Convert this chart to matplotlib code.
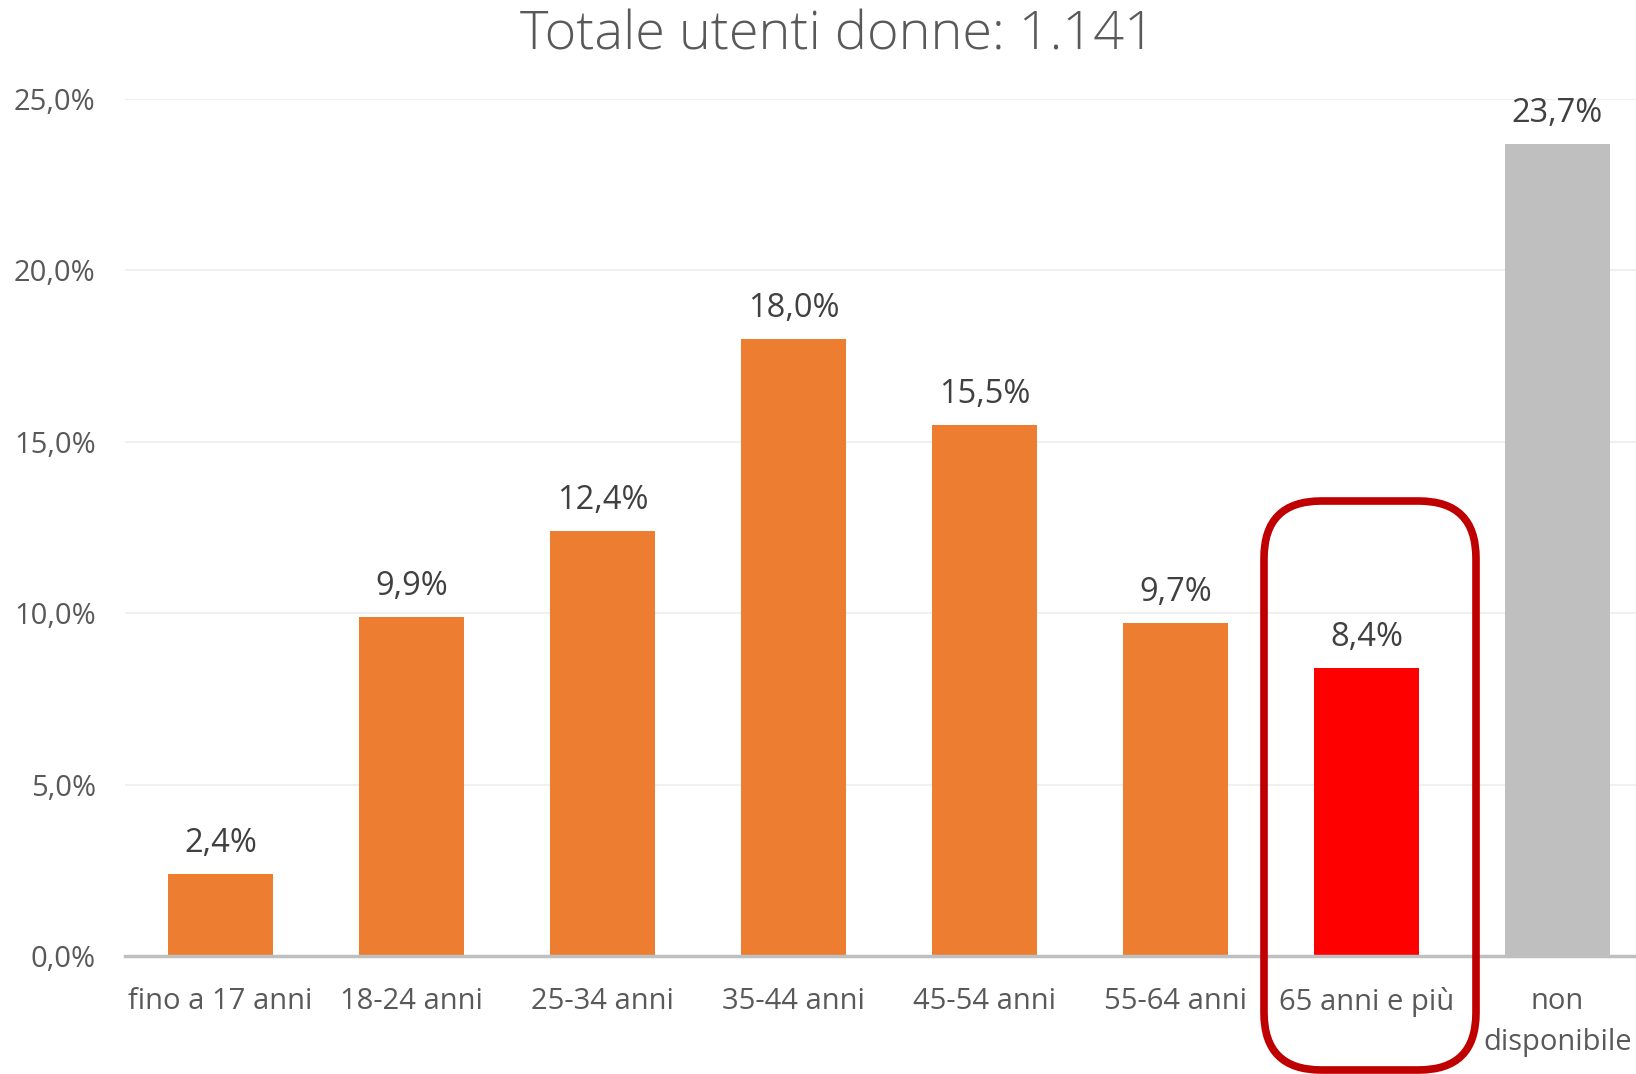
import matplotlib
matplotlib.use("Agg")
import matplotlib.pyplot as plt
from matplotlib.patches import FancyBboxPatch

categorie = ["fino a 17 anni", "18-24 anni", "25-34 anni", "35-44 anni",
             "45-54 anni", "55-64 anni", "65 anni e più", "non\ndisponibile"]
percentuali = [2.4, 9.9, 12.4, 18.0, 15.5, 9.7, 8.4, 23.7]
colori = ["#ED7D31"] * 6 + ["#FF0000", "#BFBFBF"]
yticks = [0, 5, 10, 15, 20, 25]

plt.rcParams['font.family'] = ['Open Sans', 'DejaVu Sans']

W, H = 1636, 1074
fig = plt.figure(figsize=(W / 100, H / 100), dpi=100)
ax = fig.add_axes([125 / W, (H - 956) / H, 1528 / W, 857 / H])

x = range(len(categorie))
ax.bar(x, percentuali, width=0.55, color=colori, zorder=2)

for xi, v in zip(x, percentuali):
    ax.annotate(f"{v:.1f}%".replace(".", ","), (xi, v), xytext=(0, 14),
                textcoords="offset pixels", ha="center", va="bottom",
                fontsize=23.5, color="#404040")

ax.set_xlim(-0.5, len(categorie) - 0.5)
ax.set_ylim(0, 25)
ax.set_yticks(yticks)
ax.set_yticklabels([f"{t:.1f}%".replace(".", ",") for t in yticks],
                   fontsize=21, color="#595959")
ax.set_xticks(list(x))
ax.set_xticklabels(categorie, fontsize=21, color="#595959", linespacing=1.55)
ax.tick_params(axis="both", length=0)
ax.tick_params(axis="y", pad=21)
ax.tick_params(axis="x", pad=22)

ax.grid(axis="y", color="#F0F0F0", linewidth=1.5, zorder=0)
for s in ["top", "right", "left"]:
    ax.spines[s].set_visible(False)
ax.spines["bottom"].set_color("#BFBFBF")
ax.spines["bottom"].set_linewidth(2.5)
ax.spines["bottom"].set_zorder(3)

fig.text(838 / W, 1 - 36 / H, "Totale utenti donne: 1.141", ha="center",
         va="center", fontsize=39, color="#595959", fontweight="light")

# riquadro evidenziato intorno a "65 anni e più"
box = FancyBboxPatch((1264 / W, (H - 1070) / H), 212 / W, 569 / H,
                     boxstyle="round,pad=0,rounding_size=0.035",
                     transform=fig.transFigure, fill=False,
                     edgecolor="#C00000", linewidth=5.5, zorder=5,
                     mutation_aspect=W / H)
fig.patches.append(box)

fig.savefig("out.png", dpi=100)
